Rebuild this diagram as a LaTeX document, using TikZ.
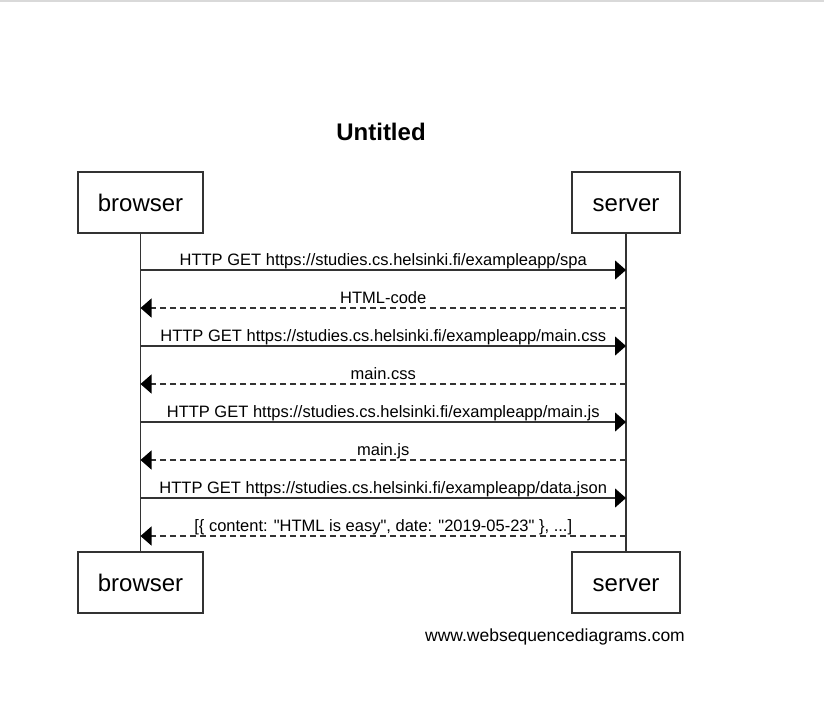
\documentclass[tikz,border=0pt]{standalone}
\usepackage{fontspec}
\setmainfont{Liberation Sans}[Ligatures=TeXOff]
\usetikzlibrary{arrows.meta}
\tikzset{
  actor/.style={draw=black!80,line width=1.2pt,minimum width=125pt,minimum height=61pt,text height=17.5pt,text depth=0pt,font=\fontsize{24}{28}\selectfont},
  msg/.style={draw=black!80,line width=1.2pt,-{Triangle[length=11pt,width=19pt,color=black]}},
  reply/.style={msg,dash pattern=on 6pt off 4pt},
  lbl/.style={font=\fontsize{16.5}{20}\selectfont,anchor=base,inner sep=0pt,yshift=5pt}
}
\begin{document}
\begin{tikzpicture}[x=1pt,y=-1pt]
  \useasboundingbox (0,0) rectangle (824,715);
  \draw[black!15,line width=2pt] (0,1)--(824,1);
  \node[font=\bfseries\fontsize{24}{28}\selectfont] (title) at (381,132) {Untitled};
  % participants
  \node[actor] (browser) at (140.5,202.5) {browser};
  \node[actor,minimum width=108pt] (server) at (626,202.5) {server};
  \node[actor] (browserB) at (140.5,582.5) {browser};
  \node[actor,minimum width=108pt] (serverB) at (626,582.5) {server};
  \draw[black!80,line width=1.2pt] (browser.south)--(browserB.north);
  \draw[black!80,line width=1.2pt] (server.south)--(serverB.north);
  % message ends
  \coordinate (b1) at (browser.south |- 0,270);
  \coordinate (s1) at (server.south |- 0,270);
  \coordinate (b2) at (browser.south |- 0,308);
  \coordinate (s2) at (server.south |- 0,308);
  \coordinate (b3) at (browser.south |- 0,346);
  \coordinate (s3) at (server.south |- 0,346);
  \coordinate (b4) at (browser.south |- 0,384);
  \coordinate (s4) at (server.south |- 0,384);
  \coordinate (b5) at (browser.south |- 0,422);
  \coordinate (s5) at (server.south |- 0,422);
  \coordinate (b6) at (browser.south |- 0,460);
  \coordinate (s6) at (server.south |- 0,460);
  \coordinate (b7) at (browser.south |- 0,498);
  \coordinate (s7) at (server.south |- 0,498);
  \coordinate (b8) at (browser.south |- 0,536);
  \coordinate (s8) at (server.south |- 0,536);
  % messages
  \draw[msg] (b1)--(s1) node[lbl,midway]{HTTP GET https://studies.cs.helsinki.fi/exampleapp/spa};
  \draw[reply] (s2)--(b2) node[lbl,midway]{HTML-code};
  \draw[msg] (b3)--(s3) node[lbl,midway]{HTTP GET https://studies.cs.helsinki.fi/exampleapp/main.css};
  \draw[reply] (s4)--(b4) node[lbl,midway]{main.css};
  \draw[msg] (b5)--(s5) node[lbl,midway]{HTTP GET https://studies.cs.helsinki.fi/exampleapp/main.js};
  \draw[reply] (s6)--(b6) node[lbl,midway]{main.js};
  \draw[msg] (b7)--(s7) node[lbl,midway]{HTTP GET https://studies.cs.helsinki.fi/exampleapp/data.json};
  \draw[reply] (s8)--(b8) node[lbl,midway]{[\{ content: "HTML is easy", date: "2019-05-23" \}, ...]};
  \node[font=\fontsize{17.5}{21}\selectfont] (footer) at (555,637) {www.websequencediagrams.com};
\end{tikzpicture}
\end{document}
